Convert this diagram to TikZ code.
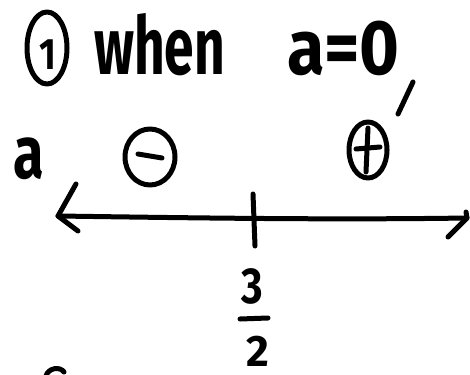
\documentclass[tikz,border=0pt]{standalone}
\usepackage{fontspec}
\setmainfont{Fira Sans}
\begin{document}
\begin{tikzpicture}[x=1pt,y=-1pt,
  ink/.style={line width=5pt,line cap=round,line join=round,black},
  hw/.style={inner sep=0pt,anchor=base west,font=\bfseries\fontsize{62}{62}\selectfont}]
\useasboundingbox[fill=white] (0,0) rectangle (470,374);
% circled 1
\draw[ink] (47,48) ellipse [x radius=20, y radius=36];
\node[inner sep=0pt,anchor=base,font=\bfseries\fontsize{40}{40}\selectfont] (one) at (48,70) {\scalebox{0.9}[1.1]{1}};
% when a=0,
\node[hw] (when) at (94,75) {\scalebox{0.86}[1.3]{when}};
\node[hw] (aeq) at (287,75) {\scalebox{1.1}[1.25]{a=0}};
\coordinate (c1) at (413,82);
\coordinate (c2) at (398,114);
\draw[ink] (c1) -- (c2);
% a label
\node[hw] (alabel) at (13,178) {\scalebox{0.9}[1.2]{a}};
% minus sign circle
\draw[ink] (150,157) ellipse [x radius=25, y radius=28];
\coordinate (m1) at (138,154);
\coordinate (m2) at (162,158);
\draw[ink] (m1) -- (m2);
% plus sign circle
\draw[ink] (368,150) ellipse [x radius=19, y radius=28];
\coordinate (p1) at (356,149);
\coordinate (p2) at (380,147);
\coordinate (p3) at (368,128);
\coordinate (p4) at (366,172);
\draw[ink] (p1) -- (p2);
\draw[ink] (p3) -- (p4);
% number line
\coordinate (L) at (58,216);
\coordinate (R) at (467,218);
\coordinate (Lu) at (76,184);
\coordinate (Ld) at (78,231);
\coordinate (Ru) at (466,212);
\coordinate (Rd) at (448,237);
\draw[ink] (L) .. controls (200,218) and (330,220) .. (R);
\draw[ink] (Lu) -- (L) -- (Ld);
\draw[ink] (Ru) -- (R) -- (Rd);
% tick
\coordinate (t1) at (253,194);
\coordinate (t2) at (255,246);
\draw[ink] (t1) -- (t2);
% fraction 3/2
\node[inner sep=0pt,anchor=base,font=\bfseries\fontsize{46}{46}\selectfont] (three) at (252,303) {\scalebox{0.9}[1.1]{3}};
\coordinate (b1) at (240,319);
\coordinate (b2) at (268,318);
\draw[ink] (b1) -- (b2);
\node[inner sep=0pt,anchor=base,font=\bfseries\fontsize{44}{44}\selectfont] (two) at (258,366) {2};
% partial arc at bottom
\coordinate (arcstart) at (46,376);
\draw[ink] (arcstart) .. controls (48,368) and (60,366) .. (64,372);
\end{tikzpicture}
\end{document}
